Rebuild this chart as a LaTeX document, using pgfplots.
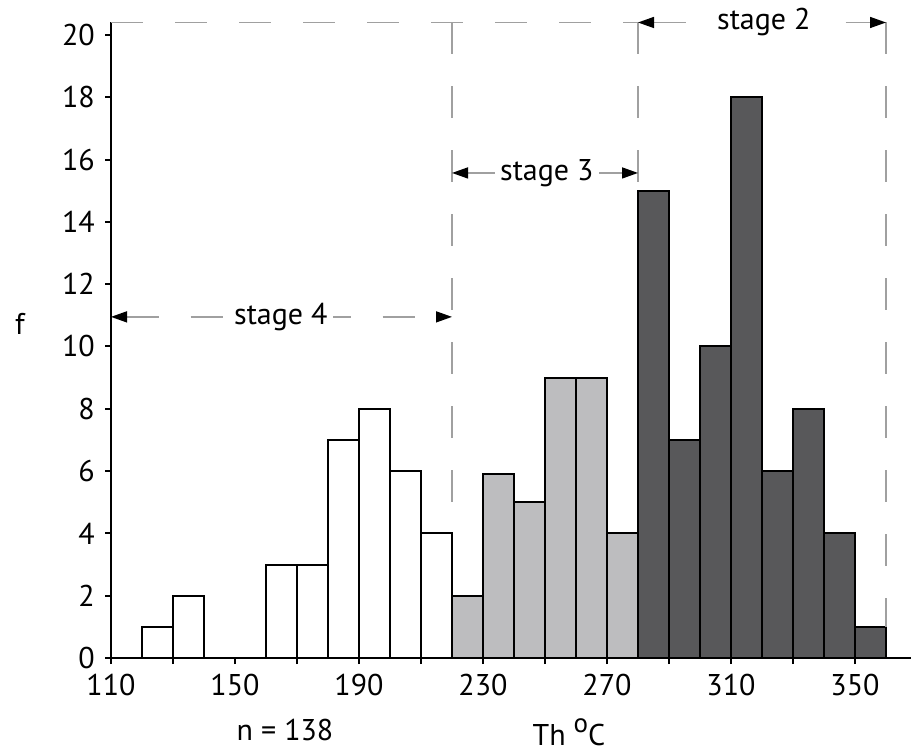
\documentclass[border=0pt]{standalone}
\usepackage{pgfplots}
\pgfplotsset{compat=1.18}
\usepackage{fontspec}
\setmainfont{PT Sans}
\usetikzlibrary{arrows.meta}
\definecolor{lightbar}{HTML}{BDBDBF}
\definecolor{darkbar}{HTML}{58585A}
\definecolor{guide}{HTML}{A0A0A0}
\tikzset{
  guideline/.style={draw=guide, line width=1.5pt, dash pattern=on 32pt off 32pt},
  stagearrow/.style={{Triangle[length=16pt,width=11pt,color=black]}-{Triangle[length=16pt,width=11pt,color=black]}},
}

\begin{document}
\fontsize{30}{36}\selectfont
\begin{tikzpicture}
\useasboundingbox (0,0) rectangle (912pt,752pt);
\begin{axis}[
  scale only axis, width=799.8pt, height=635.5pt,
  at={(111pt,94pt)}, anchor=south west,
  xmin=110, xmax=368, ymin=0, ymax=20.4,
  axis lines=left, axis line style={-, line width=2pt},
  xtick={110,130,...,350}, xticklabels={110,,150,,190,,230,,270,,310,,350},
  ytick={0,2,...,20},
  tick align=outside, major tick length=6pt, tick style={black, line width=2pt},
  /pgf/number format/assume math mode=true,
  ticklabel style={font=\fontsize{30}{36}\selectfont},
  clip=false,
]
% stage 4 bins
\addplot[ybar interval, fill=white, draw=black, line width=2pt] coordinates {
(120,1) (130,2) (140,0) (150,0) (160,3) (170,3) (180,7) (190,8) (200,6) (210,4) (220,0)};
% stage 3 bins
\addplot[ybar interval, fill=lightbar, draw=black, line width=2pt] coordinates {
(220,2) (230,5.9) (240,5) (250,9) (260,9) (270,4) (280,0)};
% stage 2 bins
\addplot[ybar interval, fill=darkbar, draw=black, line width=2pt] coordinates {
(280,15) (290,7) (300,10) (310,18) (320,6) (330,8) (340,4) (350,1) (360,0)};

\draw[guideline] (axis cs:110,20.4) -- (axis cs:280,20.4);
\draw[guideline] (axis cs:220,20.4) -- (axis cs:220,4);
\draw[guideline] (axis cs:280,20.4) -- (axis cs:280,15);
\draw[guideline] (axis cs:360,20.4) -- (axis cs:360,1);
\draw[guideline, stagearrow] (axis cs:110,10.95) -- (axis cs:220,10.95);
\draw[guideline, stagearrow] (axis cs:220,15.57) -- (axis cs:280,15.57);
\draw[guideline, stagearrow] (axis cs:280,20.4) -- (axis cs:360,20.4);
\node[fill=white, inner sep=5pt] at (axis cs:164.8,10.95) {stage 4};
\node[fill=white, inner sep=5pt] at (axis cs:250.6,15.57) {stage 3};
\node[fill=white, inner sep=5pt] at (axis cs:320.6,20.4) {stage 2};
\end{axis}
\node[anchor=base] at (20pt,417pt) {f};
\node[anchor=base] at (285pt,12pt) {n = 138};
\node[anchor=base] at (569pt,7pt) {Th {\fontsize{27}{27}\selectfont\raisebox{13pt}{o}}C};
\end{tikzpicture}
\end{document}
